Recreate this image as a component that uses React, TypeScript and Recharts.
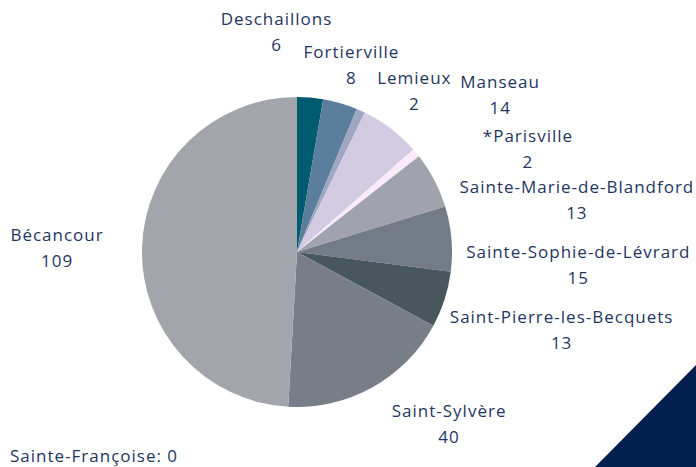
import React from 'react';
import { PieChart, Pie, Cell } from 'recharts';

const municipalities = [
  'Deschaillons',
  'Fortierville',
  'Lemieux',
  'Manseau',
  '*Parisville',
  'Sainte-Marie-de-Blandford',
  'Sainte-Sophie-de-Lévrard',
  'Saint-Pierre-les-Becquets',
  'Saint-Sylvère',
  'Bécancour',
];
const counts = [6, 8, 2, 14, 2, 13, 15, 13, 40, 109];
const sliceColors = [
  '#005a70', '#5a7e9b', '#9ea6c2', '#d3cbe2', '#fbeaf9',
  '#a0a3ae', '#737b86', '#48565e', '#777e88', '#a3a5ad',
];
const footnote = 'Sainte-Françoise: 0';

// label nudges (px) applied after radial placement
const labelNudge: [number, number][] = [
  [-37, -26], [0, 0], [37, 16], [85, -2], [81, 21],
  [107, 38], [87, 29], [79, 18], [57, 1], [-45, 1],
];

const data = municipalities.map((name, i) => ({ name, value: counts[i] }));

const TEXT = '#1f3561';
const FONT = '"Open Sans", sans-serif';
const FS = 17;
const LS = 1;
const RAD = Math.PI / 180;

const renderLabel = (props: any) => {
  const { cx, cy, midAngle, outerRadius, index, name, value } = props;
  const r = outerRadius + 40;
  const x = cx + r * Math.cos(-midAngle * RAD) + labelNudge[index][0];
  const y = cy + r * Math.sin(-midAngle * RAD) + labelNudge[index][1];
  return (
    <g>
      <text x={x} y={y - 13} textAnchor="middle" dominantBaseline="central" fill={TEXT} fontSize={FS} letterSpacing={LS} fontFamily={FONT}>
        {name}
      </text>
      <text x={x} y={y + 13} textAnchor="middle" dominantBaseline="central" fill={TEXT} fontSize={FS} letterSpacing={LS} fontFamily={FONT}>
        {value}
      </text>
    </g>
  );
};

export default function App() {
  return (
    <div style={{ position: 'absolute', left: 0, top: 0, width: 696, height: 467, overflow: 'hidden', background: '#fff' }}>
      <PieChart width={696} height={467} margin={{ top: 0, right: 0, bottom: 0, left: 0 }}>
        <Pie
          data={data}
          dataKey="value"
          nameKey="name"
          cx={297}
          cy={252}
          outerRadius={155}
          startAngle={90}
          endAngle={-270}
          stroke="none"
          label={renderLabel}
          labelLine={false}
          isAnimationActive={false}
        >
          {data.map((d, i) => (
            <Cell key={d.name} fill={sliceColors[i]} />
          ))}
        </Pie>
      </PieChart>
      <div
        style={{
          position: 'absolute', left: 10, top: 445, fontFamily: FONT, fontSize: FS, letterSpacing: LS,
          color: TEXT, lineHeight: '22px', whiteSpace: 'nowrap',
        }}
      >
        {footnote}
      </div>
      <div
        style={{
          position: 'absolute', left: 0, top: 0, width: 696, height: 467,
          background: '#001f4f', clipPath: 'polygon(595px 467px, 696px 467px, 696px 365px)',
          pointerEvents: 'none',
        }}
      />
    </div>
  );
}
